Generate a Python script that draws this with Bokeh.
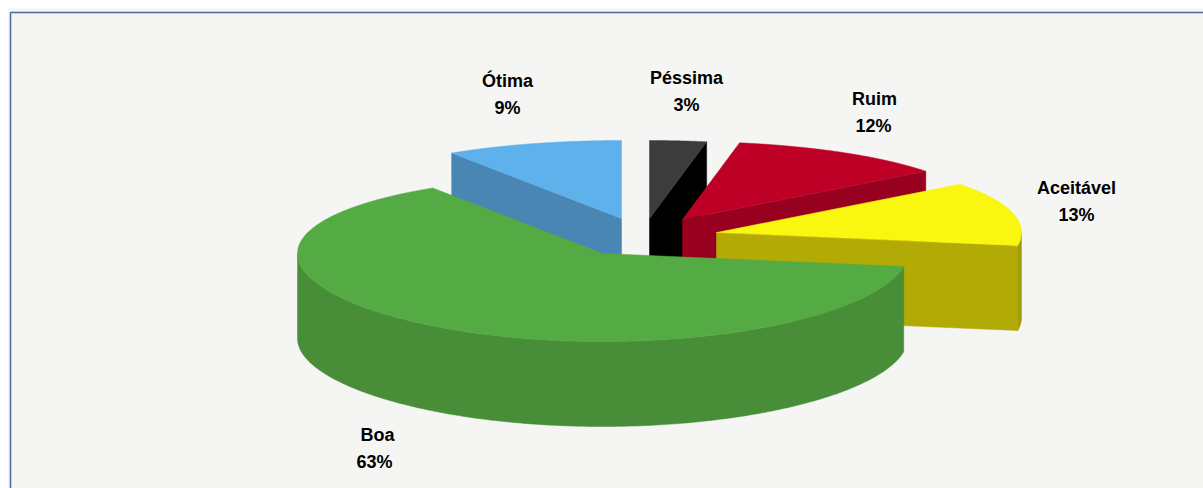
import numpy as np
from bokeh.plotting import figure
from bokeh.models import Range1d
from bokeh.core.properties import value
from bokeh.embed import file_html
from bokeh.resources import INLINE

# Data: clockwise from the top of the pie (slice sizes)
categories = ["Péssima", "Ruim", "Aceitável", "Boa", "Ótima"]
shares = [3.0, 11.7, 12.8, 63.1, 9.4]
labels_pct = ["3%", "12%", "13%", "63%", "9%"]

# Styling / layout
top_colors = ["#3C3C3C", "#BE0027", "#F9F60F", "#54AB43", "#5FB1EC"]
wall_colors = ["#000000", "#98001F", "#B2AA05", "#488D37", "#4A86B4"]
rim_colors = ["#000000", "#98001F", "#A39C08", "#488D37", "#4A86B4"]
apex_x = [649, 682, 716, 602, 621]
apex_y = [218, 219, 232, 253, 218]
label_x = [686, 874, 1076, 377, 507]
label_y = [77, 98, 187, 434, 80]
pct_dx = [0, -1, 0, -3, 0]
draw_order = [4, 0, 1, 2, 3]
RX, DEPTH = 305, 85


def project(ang_deg):
    a = np.radians(ang_deg)
    X, Y = np.sin(a), np.cos(a)
    return RX * X, -(83 * Y - 5 * Y * Y)


bounds = np.concatenate([[0], np.cumsum(shares)]) * 3.6

p = figure(width=1195, height=480, output_backend="svg", toolbar_location=None,
           x_range=Range1d(8, 1203), y_range=Range1d(488, 8), min_border=0,
           background_fill_color="#F5F5F3", border_fill_color="#F5F5F3",
           outline_line_color=None, margin=(8, 0, 0, 8))
p.axis.visible = False
p.grid.visible = False

for i in draw_order:
    a0, a1 = bounds[i], bounds[i + 1]
    ax, ay = apex_x[i], apex_y[i]
    angs = np.linspace(a0, a1, 240)
    dx, dy = project(angs)
    # radial cut faces whose outward side looks towards the viewer
    visible_edges = []
    if 0 < a1 < 180:
        visible_edges.append(a1)
    if 180 < a0 < 360:
        visible_edges.append(a0)
    for edge_ang in visible_edges:
        ex, ey = project(edge_ang)
        p.patch([ax, ax + ex, ax + ex, ax], [ay, ay + ey, ay + ey + DEPTH, ay + DEPTH],
                fill_color=wall_colors[i], line_color=wall_colors[i], line_width=0.5)
    # outer rim, front half only
    lo, hi = max(a0, 90), min(a1, 270)
    if hi > lo:
        ra = np.linspace(lo, hi, 240)
        rx, ry = project(ra)
        xs = np.concatenate([ax + rx, (ax + rx)[::-1]])
        ys = np.concatenate([ay + ry, (ay + ry + DEPTH)[::-1]])
        p.patch(xs, ys, fill_color=rim_colors[i], line_color=rim_colors[i], line_width=0.5)
    # top face
    p.patch(np.concatenate([[ax], ax + dx]), np.concatenate([[ay], ay + dy]),
            fill_color=top_colors[i], line_color=top_colors[i], line_width=0.5)

# Panel border, left and top
p.line([10, 10, 1203], [488, 12, 12], line_color="#4A6A9A", line_width=1.5)

for i, name in enumerate(categories):
    for txt, x, y in ((name, label_x[i], label_y[i]), (labels_pct[i], label_x[i] + pct_dx[i], label_y[i] + 27)):
        p.text([x], [y], text=[txt], text_font=value("Liberation Sans"), text_font_style="bold",
               text_font_size="18px", text_color="#000000", text_align="center", text_baseline="middle")

open("out.html", "w").write(file_html(p, INLINE))
